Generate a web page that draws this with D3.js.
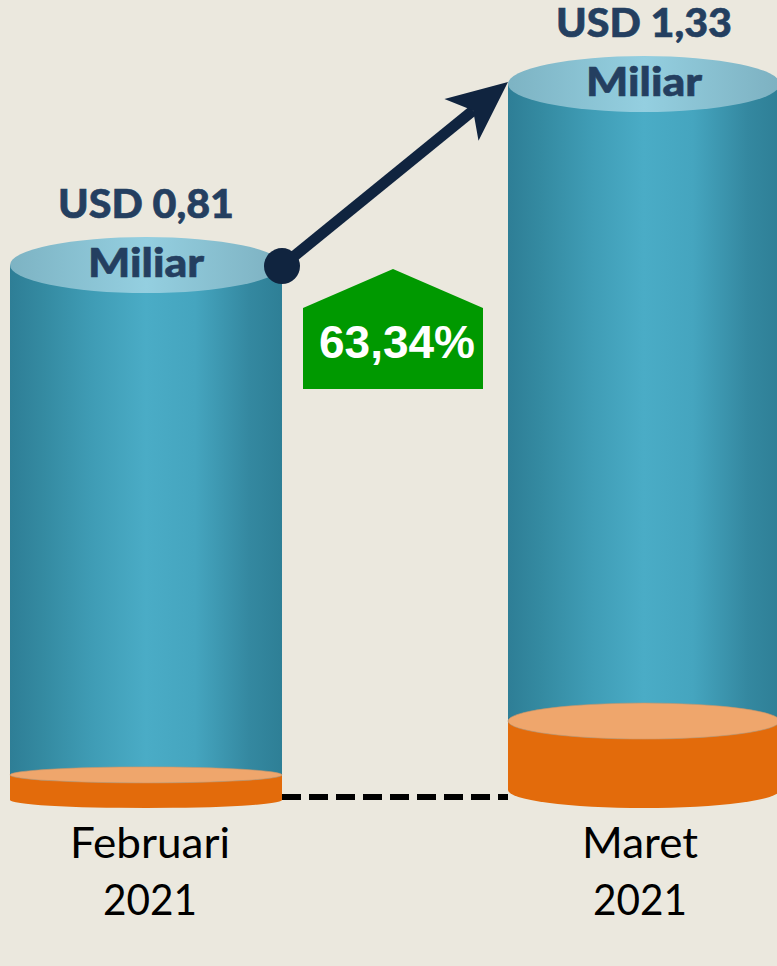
<!DOCTYPE html>
<html>
<head>
<meta charset="utf-8">
<script src="https://cdn.jsdelivr.net/npm/d3@7"></script>
<style>
  html, body { margin: 0; padding: 0; background: #EBE8DE; overflow: hidden; }
  svg { display: block; }
</style>
</head>
<body>
<div id="chart"></div>
<script>
// ---- data ----
const categories = ["Februari 2021", "Maret 2021"];
const monthLabels = ["Februari", "Maret"];
const yearLabels = ["2021", "2021"];
const values = [0.81, 1.33];              // USD billion
const valueLabels = ["USD 0,81", "USD 1,33"];
const unitLabels = ["Miliar", "Miliar"];
const baseValues = [0.072, 0.198];        // orange base discs
const growthLabel = "63,34%";

// ---- layout ----
const W = 777, H = 966;
const rx = 136, topRy = 28;
const baseRy = [8, 18];
const bottomY = 808;

const svg = d3.select("#chart").append("svg").attr("width", W).attr("height", H);
svg.append("rect").attr("width", W).attr("height", H).attr("fill", "#EBE8DE");

const x = d3.scalePoint().domain(categories).range([146, 644]);
const y = d3.scaleLinear().domain([0, 1.33]).range([547, 84]);
const pxPerUnit = y(0) - y(1);

const defs = svg.append("defs");
const sideGrad = defs.append("linearGradient").attr("id", "sideGrad").attr("x1", 0).attr("x2", 1).attr("y1", 0).attr("y2", 0);
[[0, "#2E7E96"], [0.12, "#348AA1"], [0.3, "#3F9CB5"], [0.5, "#4AACC6"], [0.68, "#45A5BF"], [0.88, "#3488A0"], [1, "#2E7F96"]]
  .forEach(([o, c]) => sideGrad.append("stop").attr("offset", o).attr("stop-color", c));
const topGrad = defs.append("linearGradient").attr("id", "topGrad").attr("x1", 0).attr("x2", 1).attr("y1", 0).attr("y2", 0);
[[0, "#7DB3C3"], [0.5, "#94CFE0"], [1, "#7DB1C1"]]
  .forEach(([o, c]) => topGrad.append("stop").attr("offset", o).attr("stop-color", c));

const data = categories.map((c, i) => ({
  cat: c, value: values[i], base: baseValues[i], bry: baseRy[i], i
}));

// dashed baseline connector
svg.append("line")
  .attr("x1", x(categories[0]) + rx).attr("x2", x(categories[1]) - rx)
  .attr("y1", 797).attr("y2", 797)
  .attr("stroke", "#000").attr("stroke-width", 6)
  .attr("stroke-dasharray", "19,8");

const g = svg.selectAll("g.cyl").data(data).join("g").attr("class", "cyl");

g.each(function(d) {
  const el = d3.select(this);
  const cx = x(d.cat);
  const botC = bottomY - d.bry;                 // bottom ellipse center
  const baseTop = botC - d.base * pxPerUnit;    // top of orange disc
  const yt = y(d.value);

  // orange disc side
  el.append("path")
    .attr("d", `M${cx - rx},${baseTop} L${cx - rx},${botC} A${rx},${d.bry} 0 0 0 ${cx + rx},${botC} L${cx + rx},${baseTop} Z`)
    .attr("fill", "#E36B0B");
  // teal side
  el.append("path")
    .attr("d", `M${cx - rx},${yt} L${cx - rx},${baseTop} A${rx},${d.bry} 0 0 0 ${cx + rx},${baseTop} L${cx + rx},${yt} Z`)
    .attr("fill", "url(#sideGrad)");
  // light orange top of disc
  el.append("ellipse")
    .attr("cx", cx).attr("cy", baseTop).attr("rx", rx).attr("ry", d.bry)
    .attr("fill", "#EFA66C").attr("stroke", "#C9966A").attr("stroke-width", 0.6);
  // top ellipse
  el.append("ellipse")
    .attr("cx", cx).attr("cy", yt).attr("rx", rx).attr("ry", topRy)
    .attr("fill", "url(#topGrad)");

  // value labels
  el.append("text")
    .attr("x", cx).attr("y", yt - 47)
    .attr("text-anchor", "middle")
    .attr("font-family", "Lato, 'Open Sans', sans-serif")
    .attr("font-weight", 900).attr("font-size", 40)
    .attr("stroke", "#243F60").attr("stroke-width", 0.6)
    .attr("textLength", 176).attr("lengthAdjust", "spacingAndGlyphs")
    .attr("fill", "#243F60").text(valueLabels[d.i]);
  el.append("text")
    .attr("x", cx).attr("y", yt + 12)
    .attr("text-anchor", "middle")
    .attr("font-family", "Lato, 'Open Sans', sans-serif")
    .attr("font-weight", 900).attr("font-size", 40)
    .attr("stroke", "#243F60").attr("stroke-width", 0.6)
    .attr("textLength", 116).attr("lengthAdjust", "spacingAndGlyphs")
    .attr("fill", "#243F60").text(unitLabels[d.i]);

  // category labels
  el.append("text")
    .attr("x", cx + (d.i === 0 ? 4 : -4)).attr("y", 858)
    .attr("text-anchor", "middle")
    .attr("font-family", "Lato, 'Open Sans', sans-serif")
    .attr("font-size", 42)
    .attr("textLength", d.i === 0 ? 160 : 116).attr("lengthAdjust", "spacingAndGlyphs")
    .attr("fill", "#000").text(monthLabels[d.i]);
  el.append("text")
    .attr("x", cx + (d.i === 0 ? 4 : -4)).attr("y", 915)
    .attr("text-anchor", "middle")
    .attr("font-family", "Lato, 'Open Sans', sans-serif")
    .attr("font-size", 42)
    .attr("textLength", 94).attr("lengthAdjust", "spacingAndGlyphs")
    .attr("fill", "#000").text(yearLabels[d.i]);
});

// growth arrow
const sx = x(categories[0]) + rx, sy = y(values[0]) + 1;
const ex = x(categories[1]) - rx, ey = y(values[1]) - 2;
const ang = Math.atan2(ey - sy, ex - sx);
const headLen = 60, headW = 27, notch = 15;
const bx = ex - headLen * Math.cos(ang), by = ey - headLen * Math.sin(ang);
const nx = ex - (headLen - notch) * Math.cos(ang), ny = ey - (headLen - notch) * Math.sin(ang);
const px = -Math.sin(ang), py = Math.cos(ang);
const arrowColor = "#10243F";
svg.append("line")
  .attr("x1", sx).attr("y1", sy).attr("x2", nx).attr("y2", ny)
  .attr("stroke", arrowColor).attr("stroke-width", 11);
svg.append("polygon")
  .attr("points", [[ex, ey], [bx + px * headW, by + py * headW], [nx, ny], [bx - px * headW, by - py * headW]].map(p => p.join(",")).join(" "))
  .attr("fill", arrowColor);
svg.append("circle").attr("cx", sx).attr("cy", sy).attr("r", 18).attr("fill", arrowColor);

// growth badge (house shape)
const mx = (x(categories[0]) + rx + x(categories[1]) - rx) / 2 - 2;
const bw = 90;
svg.append("polygon")
  .attr("points", [[mx - bw, 308], [mx, 269], [mx + bw, 308], [mx + bw, 389], [mx - bw, 389]].map(p => p.join(",")).join(" "))
  .attr("fill", "#009900");
svg.append("text")
  .attr("x", mx + 4).attr("y", 358)
  .attr("text-anchor", "middle")
  .attr("font-family", "'Liberation Sans', Arial, sans-serif")
  .attr("font-weight", 700).attr("font-size", 46)
  .attr("fill", "#fff").text(growthLabel);
</script>
</body>
</html>
